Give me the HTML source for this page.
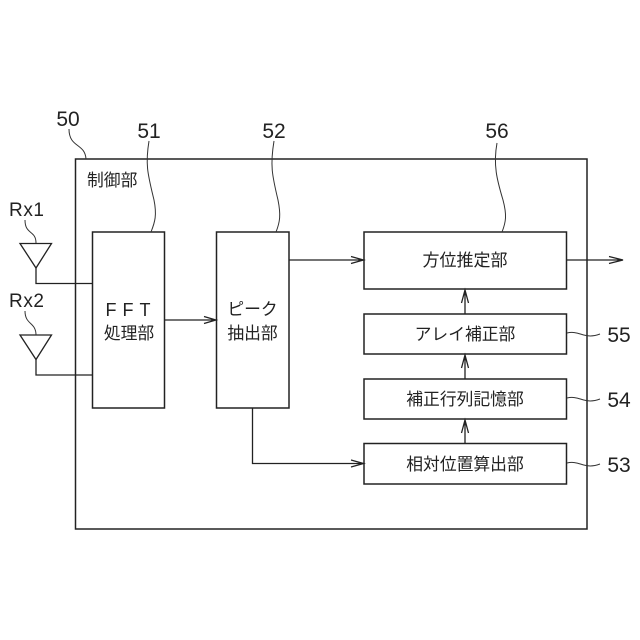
<!DOCTYPE html>
<html lang="ja">
<head>
<meta charset="utf-8">
<style>
html,body{margin:0;padding:0;background:#fff}
svg{display:block}
text{font-family:"Liberation Sans","Noto Sans CJK JP",sans-serif;fill:#222}
.j{font-size:16.800px;text-anchor:middle}
.n{font-size:21px;text-anchor:middle}
.b{fill:#fff;stroke:#222;stroke-width:1.5}
.l{fill:none;stroke:#222;stroke-width:1.3}
.t{fill:none;stroke:#333;stroke-width:1}
</style>
</head>
<body>
<svg width="640" height="640" viewBox="0 0 640 640" xmlns="http://www.w3.org/2000/svg">
<rect x="75.500" y="159" width="511.500" height="370" fill="none" stroke="#222" stroke-width="1.500"/>
<!-- input lines -->
<path class="l" d="M36 268V283.500H92.500M36 359.500V375H92.500"/>
<!-- antennas -->
<path class="l" d="M20 243.500H51.500L36 268ZM20 335H51.500L36 359.500Z"/>
<!-- boxes -->
<rect class="b" x="92.500" y="232" width="72" height="176"/>
<rect class="b" x="216.500" y="232" width="72.500" height="176"/>
<rect class="b" x="364" y="232" width="202.500" height="57"/>
<rect class="b" x="364" y="314" width="202.500" height="40"/>
<rect class="b" x="364" y="379" width="202.500" height="40"/>
<rect class="b" x="364" y="443.500" width="202.500" height="40.500"/>
<!-- connectors -->
<path class="l" d="M164.500 320H216M204 316.500L216 320L204 323.500"/>
<path class="l" d="M289 260H363.500M351 256.500L363.500 260L351 263.500"/>
<path class="l" d="M566.500 260H623M609 256.500L623 260L609 263.500"/>
<path class="l" d="M252.500 408V463.500H363.500M351 460L363.500 463.500L351 467"/>
<path class="l" d="M465 314V290M461.500 303L465 290L468.500 303"/>
<path class="l" d="M465 379V355M461.500 368L465 355L468.500 368"/>
<path class="l" d="M465 443.500V420M461.500 433L465 420L468.500 433"/>
<!-- leader lines -->
<path class="t" d="M69 129C69 148 85 143 86 159"/>
<path class="t" d="M149 141C145 165 148 175 154 200C157 215 155 222 151 232"/>
<path class="t" d="M274 141C270 165 272 175 278 200C281 215 280 222 276 232"/>
<path class="t" d="M497 143C493 165 497 180 503 200C507 215 506 222 502 232"/>
<path class="t" d="M25 220C25 235 36 230 36 243"/>
<path class="t" d="M25 311C25 325 36 322 36 335"/>
<path class="t" d="M567 333C580 330 584 340 600 334"/>
<path class="t" d="M567 398C580 395 584 405 600 399"/>
<path class="t" d="M567 463C580 460 584 470 600 464"/>
<!-- reference numbers -->
<text class="n" x="68" y="126">50</text>
<text class="n" x="149" y="138">51</text>
<text class="n" x="274" y="138">52</text>
<text class="n" x="497" y="138">56</text>
<text class="n" x="619" y="342">55</text>
<text class="n" x="619" y="407">54</text>
<text class="n" x="619" y="472">53</text>
<text x="9" y="216" style="font-size:19px;letter-spacing:.6px">Rx1</text>
<text x="9" y="307" style="font-size:19px;letter-spacing:.6px">Rx2</text>
<!-- labels -->
<text x="87" y="186" style="font-size:16.800px">制御部</text>
<text class="j" x="131" y="316" style="font-size:18px;letter-spacing:6px">FFT</text>
<text class="j" x="129" y="339">処理部</text>
<text class="j" x="252.500" y="315">ピーク</text>
<text class="j" x="252.500" y="339">抽出部</text>
<text class="j" x="465" y="266" style="font-size:17px">方位推定部</text>
<text class="j" x="465" y="340">アレイ補正部</text>
<text class="j" x="465" y="405">補正行列記憶部</text>
<text class="j" x="465" y="470">相対位置算出部</text>
</svg>
</body>
</html>
